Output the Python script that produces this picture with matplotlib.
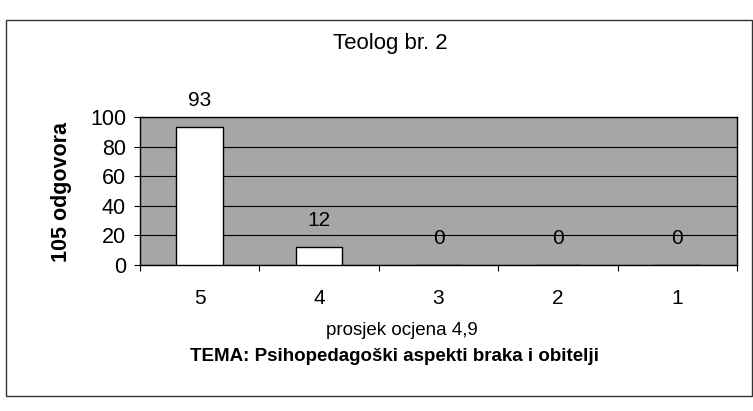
import matplotlib
matplotlib.use("Agg")
import matplotlib.pyplot as plt
from matplotlib.patches import Rectangle
import numpy as np

# data
grades = ["5", "4", "3", "2", "1"]
answers = [93, 12, 0, 0, 0]
y_ticks = [0, 20, 40, 60, 80, 100]

title = "Teolog br. 2"
y_label = "105 odgovora"
avg_note = "prosjek ocjena 4,9"
topic = "TEMA: Psihopedagoški aspekti braka i obitelji"

plt.rcParams["font.family"] = ["Liberation Sans", "DejaVu Sans"]

W, H = 753, 411
fig = plt.figure(figsize=(W / 100, H / 100), dpi=100)
fig.patch.set_facecolor("white")

# outer chart frame
fig.patches.append(Rectangle((6 / W, 1 - 396 / H), 746 / W, 376 / H,
                             transform=fig.transFigure, fill=False,
                             edgecolor="#333333", linewidth=1.0))

ax = fig.add_axes([140 / W, 1 - 265 / H, 597 / W, 148 / H])
ax.set_facecolor("#a6a6a6")

x = np.arange(len(grades))
ax.bar(x, answers, width=0.39, color="white", edgecolor="black",
       linewidth=1.0, zorder=3)

for xi, val in zip(x, answers):
    ax.annotate(str(val), (xi, val), xytext=(0, 19), textcoords="offset points",
                ha="center", va="center", fontsize=15, zorder=4)

ax.set_xlim(-0.5, len(grades) - 0.5)
ax.set_ylim(0, 100)
ax.set_yticks(y_ticks)
ax.yaxis.grid(True, color="black", linewidth=0.8, zorder=1)
ax.set_axisbelow(True)

ax.set_xticks(x)
ax.set_xticklabels(grades)
ax.set_xticks(np.arange(len(grades) + 1) - 0.5, minor=True)
ax.tick_params(axis="x", which="major", length=0, pad=17, labelsize=15)
ax.tick_params(axis="x", which="minor", length=4, width=0.8, direction="out")
ax.tick_params(axis="y", length=4, width=0.8, pad=6, labelsize=15.5)

for s in ax.spines.values():
    s.set_color("black")
    s.set_linewidth(1.0)

fig.text(390 / W, 1 - 44 / H, title, ha="center", va="center", fontsize=16)
fig.text(62 / W, 1 - 192 / H, y_label, ha="center", va="center",
         rotation=90, fontsize=15.5, fontweight="bold")
fig.text(402 / W, 1 - 330 / H, avg_note, ha="center", va="center", fontsize=13.5)
fig.text(394 / W, 1 - 356 / H, topic, ha="center", va="center",
         fontsize=13.5, fontweight="bold")

fig.savefig("out.png", dpi=100)
